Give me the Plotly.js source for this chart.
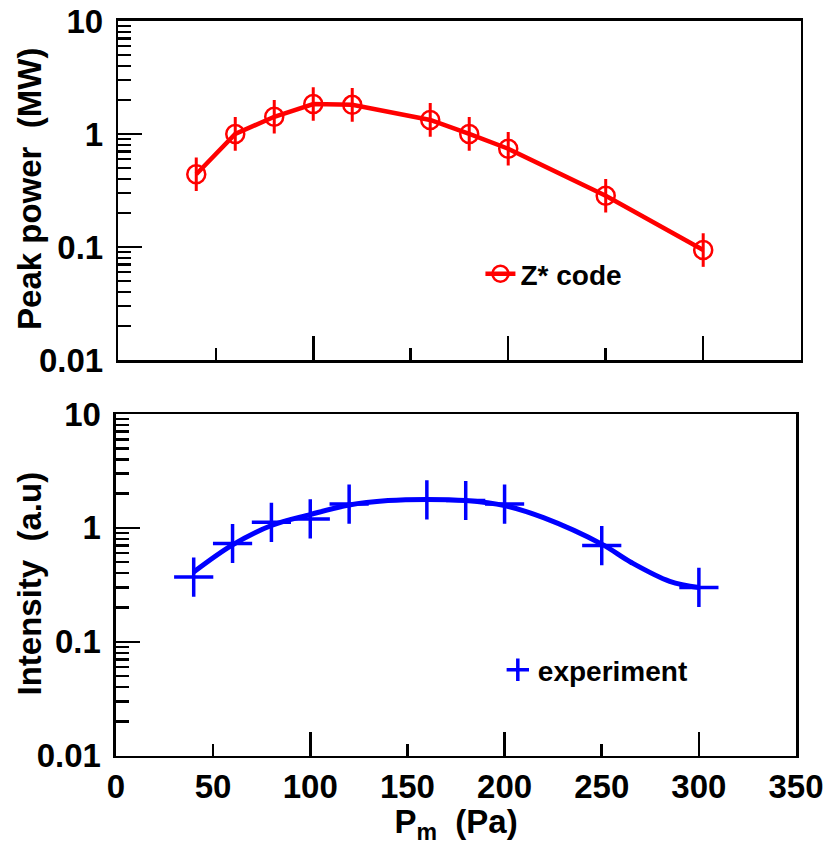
<!DOCTYPE html>
<html>
<head>
<meta charset="utf-8">
<script src="https://cdn.plot.ly/plotly-3.0.1.min.js"></script>
<style>html,body{margin:0;padding:0;background:#fff;}#chart{width:825px;height:845px;}</style>
</head>
<body>
<div id="chart"></div>
<script>
// ---- data ----
const zPressure = [40, 60, 80, 100, 120, 160, 180, 200, 250, 300];
const zPeakPower = [0.44, 1.0, 1.42, 1.84, 1.81, 1.33, 1.0, 0.74, 0.284, 0.094];

const expPressure = [40, 60, 80, 100, 120, 160, 180, 200, 250, 300];
const expIntensity = [0.37, 0.73, 1.12, 1.2, 1.62, 1.76, 1.74, 1.62, 0.70, 0.30];

const fitPressure = [40, 60, 80, 100, 120, 140, 160, 180, 200, 220, 250, 265, 285, 300];
const fitIntensity = [0.41, 0.71, 1.05, 1.31, 1.59, 1.74, 1.78, 1.74, 1.57, 1.23, 0.72, 0.50, 0.34, 0.30];

const yTickVals = [0.01, 0.1, 1, 10];
const yTickText = ['0.01', '0.1', '1', '10'];

const topYTitle = 'Peak power\u00a0\u00a0(MW)';
const bottomYTitle = 'Intensity\u00a0\u00a0(a.u)';
const xTitle = 'P<sub>m</sub>\u00a0\u00a0(Pa)';

// ---- styling ----
const FONT = 'Liberation Sans, Arial, Helvetica, sans-serif';
const RED = '#ff0000';
const BLUE = '#0000ff';

const traces = [
  {
    x: zPressure, y: zPeakPower, xaxis: 'x', yaxis: 'y',
    type: 'scatter', mode: 'lines+markers', name: 'Z* code',
    line: {color: RED, width: 4.5},
    marker: {symbol: 'circle-open', size: 18, color: RED, line: {color: RED, width: 2.5}},
    error_y: {type: 'percent', symmetric: false, value: 41, valueminus: 29, color: RED, thickness: 3, width: 0},
    legend: 'legend', hoverinfo: 'x+y'
  },
  {
    x: fitPressure, y: fitIntensity, xaxis: 'x2', yaxis: 'y2',
    type: 'scatter', mode: 'lines', line: {color: BLUE, width: 5, shape: 'spline', smoothing: 1},
    showlegend: false, hoverinfo: 'x+y'
  },
  {
    x: expPressure, y: expIntensity, xaxis: 'x2', yaxis: 'y2',
    type: 'scatter', mode: 'markers', name: 'experiment',
    marker: {symbol: 'cross-thin-open', size: 28, color: BLUE, line: {color: BLUE, width: 3.5}},
    legend: 'legend2', hoverinfo: 'x+y'
  },
  // empty helper traces so the long-tick overlay axes exist
  {x: [], y: [], xaxis: 'x3', yaxis: 'y', type: 'scatter', mode: 'markers', showlegend: false, hoverinfo: 'skip'},
  {x: [], y: [], xaxis: 'x4', yaxis: 'y2', type: 'scatter', mode: 'markers', showlegend: false, hoverinfo: 'skip'}
];

const tickFont = {family: FONT, size: 33, color: '#000', weight: 'bold'};
const titleFont = {family: FONT, size: 33, color: '#000', weight: 'bold'};

function yAxis(domain, anchor) {
  return {
    type: 'log', range: [-2, 1], domain: domain, anchor: anchor,
    tickmode: 'array', tickvals: yTickVals, ticktext: yTickText,
    ticks: 'inside', ticklen: 24, tickwidth: 2.5, tickcolor: '#000',
    minor: {dtick: 'D1', ticks: 'inside', ticklen: 13, tickwidth: 2.5, tickcolor: '#000', showgrid: false},
    showline: true, linecolor: '#000', linewidth: 2.5, mirror: true,
    showgrid: false, zeroline: false,
    tickfont: tickFont, ticklabelstandoff: 6
  };
}

function xAxisMain(domain, anchor, labels, title) {
  const ax = {
    range: [0, 350], domain: domain, anchor: anchor,
    tickmode: 'linear', tick0: 0, dtick: 50,
    ticks: 'inside', ticklen: 12, tickwidth: 2.5, tickcolor: '#000',
    showline: true, linecolor: '#000', linewidth: 2.5, mirror: true,
    showgrid: false, zeroline: false,
    showticklabels: labels, tickfont: tickFont, ticklabelstandoff: 0
  };
  if (title) ax.title = {text: title, font: titleFont, standoff: 7};
  return ax;
}

function xAxisLong(overlay, anchor) {
  return {
    range: [0, 350], overlaying: overlay, anchor: anchor,
    tickmode: 'linear', tick0: 0, dtick: 100,
    ticks: 'inside', ticklen: 24, tickwidth: 2.5, tickcolor: '#000',
    showline: false, showgrid: false, zeroline: false, showticklabels: false
  };
}

const layout = {
  width: 825, height: 845,
  margin: {l: 110, r: 20, t: 20, b: 80},
  paper_bgcolor: '#fff', plot_bgcolor: '#fff',
  showlegend: true,
  font: {family: FONT, color: '#000'},
  xaxis: xAxisMain([0.0119, 0.9938], 'y', false, null),
  yaxis: yAxis([0.5436, 0.9987], 'x'),
  xaxis2: xAxisMain([0.0086, 0.9871], 'y2', true, xTitle),
  yaxis2: yAxis([0.0125, 0.4711], 'x2'),
  xaxis3: xAxisLong('x', 'y'),
  xaxis4: xAxisLong('x2', 'y2'),
  annotations: [
    {text: topYTitle, xref: 'paper', yref: 'paper', x: -0.1151, y: 0.7732,
     xanchor: 'center', yanchor: 'middle', textangle: -90, showarrow: false, font: titleFont},
    {text: bottomYTitle, xref: 'paper', yref: 'paper', x: -0.1151, y: 0.2436,
     xanchor: 'center', yanchor: 'middle', textangle: -90, showarrow: false, font: titleFont}
  ],
  legend: {
    x: 0.533, y: 0.659, xanchor: 'left', yanchor: 'middle',
    bgcolor: 'rgba(0,0,0,0)', borderwidth: 0,
    font: {family: FONT, size: 28, color: '#000', weight: 'bold'}
  },
  legend2: {
    x: 0.558, y: 0.1275, xanchor: 'left', yanchor: 'middle',
    bgcolor: 'rgba(0,0,0,0)', borderwidth: 0,
    font: {family: FONT, size: 28, color: '#000', weight: 'bold'}
  }
};

// keep overlay axes on the same domains as their base axes
layout.xaxis3.domain = layout.xaxis.domain;
layout.xaxis4.domain = layout.xaxis2.domain;

Plotly.newPlot('chart', traces, layout, {staticPlot: true, displayModeBar: false});
</script>
</body>
</html>
